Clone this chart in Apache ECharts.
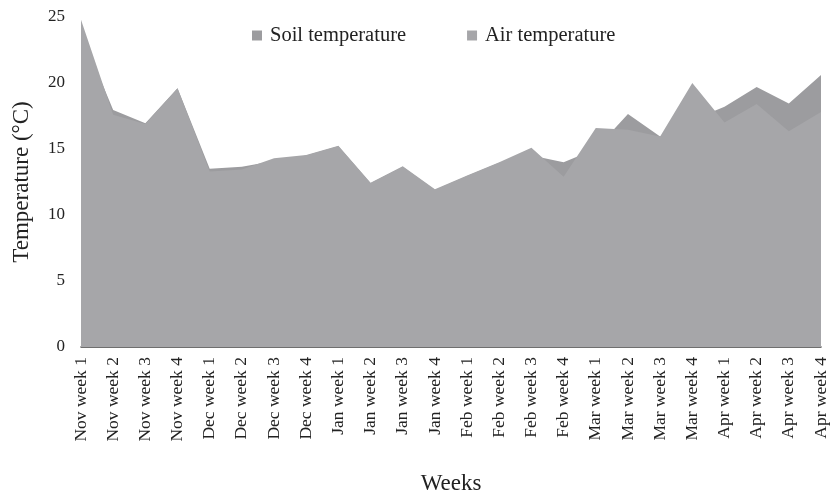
<!DOCTYPE html>
<html>
<head>
<meta charset="utf-8">
<script src="https://cdn.jsdelivr.net/npm/echarts@6/dist/echarts.min.js"></script>
<style>html,body{margin:0;padding:0;background:#fff;}#chart{width:837px;height:494px;}</style>
</head>
<body>
<div id="chart"></div>
<script>
const categories = ['Nov week 1','Nov week 2','Nov week 3','Nov week 4','Dec week 1','Dec week 2','Dec week 3','Dec week 4','Jan week 1','Jan week 2','Jan week 3','Jan week 4','Feb week 1','Feb week 2','Feb week 3','Feb week 4','Mar week 1','Mar week 2','Mar week 3','Mar week 4','Apr week 1','Apr week 2','Apr week 3','Apr week 4'];
const soilTemp = [23.8, 17.95, 16.95, 19.6, 13.5, 13.65, 14.1, 14.5, 15.2, 12.4, 13.65, 11.9, 12.95, 13.95, 14.5, 14.0, 15.0, 17.65, 15.95, 17.2, 18.2, 19.7, 18.45, 20.6];
const airTemp = [24.8, 17.6, 16.9, 19.6, 13.3, 13.45, 14.3, 14.55, 15.25, 12.45, 13.7, 11.95, 13.0, 14.0, 15.1, 12.9, 16.6, 16.45, 15.95, 20.0, 17.0, 18.4, 16.35, 17.8];
const yTicks = [0, 5, 10, 15, 20, 25];

const font = 'Liberation Serif';
const chart = echarts.init(document.getElementById('chart'), null, {renderer: 'canvas'});
chart.setOption({
  animation: false,
  textStyle: {fontFamily: font},
  legend: {
    top: 20, left: 247,
    icon: 'rect', itemWidth: 10, itemHeight: 10, itemGap: 61,
    textStyle: {fontFamily: font, fontSize: 20.5, color: '#222', padding: [0, 0, 0, 3]},
    data: ['Soil temperature', 'Air temperature']
  },
  grid: {left: 81, right: 16, top: 17, bottom: 147, containLabel: false, outerBoundsMode: 'none'},
  xAxis: {
    type: 'category', data: categories, boundaryGap: false,
    name: 'Weeks', nameLocation: 'middle', nameGap: 125,
    nameTextStyle: {fontFamily: font, fontSize: 23, color: '#222'},
    axisLine: {lineStyle: {color: '#404040', width: 1.5}},
    axisTick: {show: false},
    axisLabel: {rotate: 90, interval: 0, margin: 10, fontFamily: font, fontSize: 17.5, color: '#222'}
  },
  yAxis: {
    type: 'value', min: yTicks[0], max: yTicks[yTicks.length - 1], interval: 5,
    name: 'Temperature (°C)', nameLocation: 'middle', nameGap: 48,
    nameTextStyle: {fontFamily: font, fontSize: 23, color: '#222'},
    axisLine: {show: false}, axisTick: {show: false}, splitLine: {show: false},
    axisLabel: {margin: 16, fontFamily: font, fontSize: 17, color: '#222'}
  },
  series: [
    {name: 'Soil temperature', type: 'line', data: soilTemp, symbol: 'none',
     lineStyle: {width: 0}, itemStyle: {color: '#9c9c9f'}, areaStyle: {color: '#9c9c9f', opacity: 1}},
    {name: 'Air temperature', type: 'line', data: airTemp, symbol: 'none',
     lineStyle: {width: 0}, itemStyle: {color: '#a6a6a9'}, areaStyle: {color: '#a6a6a9', opacity: 1}}
  ]
});
</script>
</body>
</html>
